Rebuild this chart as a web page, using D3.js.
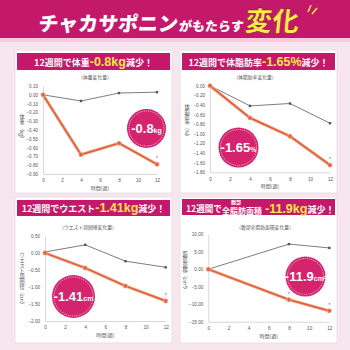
<!DOCTYPE html>
<html><head><meta charset="utf-8">
<script src="https://cdn.jsdelivr.net/npm/d3@7"></script>
<style>
html,body{margin:0;padding:0;background:#f8e6ee;}
svg{display:block;font-family:"Noto Sans CJK JP","Noto Sans",sans-serif;}
.vt{writing-mode:vertical-rl;text-orientation:mixed;}
</style></head><body>
<svg id="c" width="350" height="350"></svg>
<script>
// ---- data ----
const weeks = [0, 4, 8, 12];
const areaWeeks = [0, 8, 12];
const xTickLabels = [0, 2, 4, 6, 8, 10, 12];

const weightActive  = [0, -0.68, -0.55, -0.79];
const weightPlacebo = [0, -0.07, 0.02, 0.03];
const weightTicks   = [0.10, 0.00, -0.10, -0.20, -0.30, -0.40, -0.50, -0.60, -0.70, -0.80, -0.90];

const fatActive  = [0, -0.67, -1.05, -1.65];
const fatPlacebo = [0, -0.42, -0.37, -0.78];
const fatTicks   = [0.00, -0.20, -0.40, -0.60, -0.80, -1.00, -1.20, -1.40, -1.60, -1.80];

const waistActive  = [0, -0.44, -0.97, -1.41];
const waistPlacebo = [0.03, 0.24, -0.24, -0.42];
const waistTicks   = [0.50, 0.00, -0.50, -1.00, -1.50, -2.00];

const areaActive  = [0, -8.7, -11.9];
const areaPlacebo = [0, 7.2, 6.1];
const areaTicks   = [10.00, 5.00, 0.00, -5.00, -10.00, -15.00];

const svg = d3.select("#c");
const MAG = "#c4186a", YEL = "#ffe94a", ORG = "#e0643a", GRY = "#6e6e6e";

// header
svg.append("rect").attr("x",0).attr("y",0).attr("width",350).attr("height",38).attr("fill",MAG);
svg.append("rect").attr("x",0).attr("y",38).attr("width",350).attr("height",4).attr("fill","#f7c9dc");
const ht = svg.append("text").attr("x",38).attr("y",31).attr("font-weight",900).attr("fill","#fff")
  .attr("transform","skewX(-6) translate(3,0)");
ht.append("tspan").attr("font-size",20).text("チャカサポニン");
ht.append("tspan").attr("font-size",13).attr("dx",1).text("がもたらす");
ht.append("tspan").attr("font-size",27).attr("fill",YEL).attr("stroke","#8a1040").attr("stroke-width",0.6).attr("dx",1).text("変化");
svg.append("path").attr("d","M308,12 L311,5 M312,14 L317,8").attr("stroke",YEL).attr("stroke-width",1.5).attr("fill","none");

function panel(o){
  const g = svg.append("g");
  // card
  g.append("rect").attr("x",o.cx).attr("y",o.cy).attr("width",157).attr("height",o.ch)
    .attr("fill","#fff").attr("stroke","#e4dde0").attr("stroke-width",0.8);
  // title bar
  g.append("rect").attr("x",o.cx+2).attr("y",o.ty).attr("width",153).attr("height",o.th).attr("fill",MAG);
  const tt = g.append("text").attr("x",o.cx+78.5).attr("y",o.ty+o.th/2+4.2).attr("text-anchor","middle")
    .attr("fill","#fff").attr("font-weight",700);
  o.title(tt);
  // subtitle
  g.append("text").attr("x",o.sx).attr("y",o.sy).attr("text-anchor","middle").attr("font-size",4.8)
    .attr("fill","#555").text(o.sub);

  const x = d3.scaleLinear().domain([0,12]).range(o.xr);
  const y = d3.scaleLinear().domain(o.yd).range(o.yr);

  // axes
  const ya = d3.axisLeft(y).tickValues(o.ticks).tickSize(0).tickPadding(5).tickFormat(d3.format(".2f"));
  const gy = g.append("g").attr("transform",`translate(${o.xr[0]},0)`).call(ya);
  gy.select(".domain").attr("stroke","#c8c8c8").attr("stroke-width",0.7);
  gy.selectAll("text").attr("font-size",4.6).attr("fill","#555").attr("font-family","Liberation Sans,sans-serif");
  const xa = d3.axisBottom(x).tickValues(xTickLabels).tickSize(0).tickPadding(5).tickFormat(d3.format("d"));
  const gx = g.append("g").attr("transform",`translate(0,${o.yr[1]})`).call(xa);
  gx.select(".domain").attr("stroke","#c8c8c8").attr("stroke-width",0.7);
  gx.selectAll("text").attr("font-size",4.6).attr("fill","#555").attr("font-family","Liberation Sans,sans-serif");
  g.append("text").attr("x",(o.xr[0]+o.xr[1])/2).attr("y",o.yr[1]+16).attr("text-anchor","middle")
    .attr("font-size",5).attr("fill","#555").text("時間(週)");
  // y title (vertical)
  g.append("text").attr("class","vt").attr("x",o.ytx).attr("y",o.yty).attr("font-size",5.2).attr("fill","#555")
    .attr("text-anchor","middle").text(o.ytitle);

  const line = d3.line().x((d,i)=>x(o.wk[i])).y(d=>y(d));
  g.append("path").datum(o.placebo).attr("d",line).attr("fill","none").attr("stroke",GRY).attr("stroke-width",0.9);
  g.selectAll(".pm").data(o.placebo).join("rect").attr("x",(d,i)=>x(o.wk[i])-1.2).attr("y",d=>y(d)-1.2)
    .attr("width",2.4).attr("height",2.4).attr("fill","#555");
  g.append("path").datum(o.active).attr("d",line).attr("fill","none").attr("stroke","#f3b8a4").attr("stroke-width",3.2);
  g.append("path").datum(o.active).attr("d",line).attr("fill","none").attr("stroke",ORG).attr("stroke-width",1.8);
  g.selectAll(".am").data(o.active).join("circle").attr("cx",(d,i)=>x(o.wk[i])).attr("cy",d=>y(d))
    .attr("r",2.2).attr("fill",ORG).attr("stroke","#f6c0ae").attr("stroke-width",0.6);
  // significance stars
  o.stars.forEach(s=>{
    g.append("text").attr("x",x(o.wk[s])).attr("y",y(o.active[s])-4).attr("text-anchor","middle")
      .attr("font-size",5).attr("fill","#555").text("*");
  });
  // badge
  const b = g.append("g").attr("transform",`translate(${o.bx},${o.by})`);
  b.append("circle").attr("r",o.br).attr("fill","#d3246d");
  b.append("circle").attr("r",o.br-2).attr("fill","none").attr("stroke","#fff").attr("stroke-width",0.6).attr("stroke-dasharray","1.2,1");
  const bt = b.append("text").attr("text-anchor","middle").attr("y",4.5).attr("fill","#fff").attr("font-weight",700)
    .attr("font-family","Liberation Sans,Noto Sans,sans-serif");
  bt.append("tspan").attr("font-size",13).text(o.badge);
  bt.append("tspan").attr("font-size",7).text(o.unit);
}

function std(pre, val, post){
  return t=>{
    t.append("tspan").attr("font-size",9).text(pre);
    t.append("tspan").attr("font-size",12.5).attr("font-weight",900).attr("fill",YEL).attr("font-family","Liberation Sans,Noto Sans CJK JP,sans-serif").text(val);
    t.append("tspan").attr("font-size",9).text(post);
  };
}

panel({cx:15,cy:50,ch:143,ty:53,th:17,title:std("12週間で体重","-0.8kg","減少！"),
  sub:"（体重変化量）",sx:95,sy:79,xr:[43,157],yd:[0.10,-0.90],yr:[86,174],ticks:weightTicks,
  wk:weeks,active:weightActive,placebo:weightPlacebo,stars:[3],ytitle:"体重（kg）",ytx:22,yty:128,
  bx:146.5,by:128.5,br:19.5,badge:"-0.8",unit:"kg"});

panel({cx:180,cy:50,ch:143,ty:53,th:17,title:std("12週間で体脂肪率","-1.65%","減少！"),
  sub:"（体脂肪率変化量）",sx:255,sy:79,xr:[210,330],yd:[0,-1.8],yr:[85.7,172.3],ticks:fatTicks,
  wk:weeks,active:fatActive,placebo:fatPlacebo,stars:[3],ytitle:"体脂肪率（%）",ytx:187,yty:122,
  bx:238.5,by:147.5,br:20,badge:"-1.65",unit:"%"});

panel({cx:15,cy:197,ch:146,ty:200,th:16,title:std("12週間でウエスト","-1.41kg","減少！"),
  sub:"（ウエスト周囲径変化量）",sx:88,sy:229,xr:[45,165.7],yd:[0.5,-2.0],yr:[236,321],ticks:waistTicks,
  wk:weeks,active:waistActive,placebo:waistPlacebo,stars:[3],ytitle:"ウエスト周囲径（cm）",ytx:22,yty:280,
  bx:73.5,by:296.5,br:21.5,badge:"-1.41",unit:"cm"});

panel({cx:180,cy:197,ch:146,ty:199,th:16,title:t=>{
    t.attr("x",186).attr("y",212).attr("text-anchor","start");
    t.append("tspan").attr("font-size",8.6).text("12週間で");
  },
  sub:"（腹部全脂肪面積変化量）",sx:265,sy:229,xr:[208.3,329.3],yd:[10,-15],yr:[234.3,321.7],ticks:areaTicks,
  wk:areaWeeks,active:areaActive,placebo:areaPlacebo,stars:[1,2],ytitle:"脂肪面積（cm²）",ytx:185,yty:272,
  bx:305.5,by:276.5,br:20,badge:"-11.9",unit:"cm²"});

// second part of chart-4 title (stacked label + value)
const t4 = svg.append("g");
t4.append("text").attr("x",236).attr("y",204).attr("text-anchor","middle").attr("font-size",5).attr("font-weight",700).attr("fill","#fff").text("腹部");
t4.append("text").attr("x",222).attr("y",213.8).attr("font-size",8).attr("font-weight",700).attr("fill","#fff").text("全脂肪面積");
const t4b = t4.append("text").attr("x",265).attr("y",212.5).attr("font-weight",700).attr("fill","#fff");
t4b.append("tspan").attr("font-size",12.5).attr("font-weight",900).attr("fill",YEL).attr("font-family","Liberation Sans,Noto Sans CJK JP,sans-serif").text("-11.9kg");
t4b.append("tspan").attr("font-size",9).text("減少！");
</script></body></html>
